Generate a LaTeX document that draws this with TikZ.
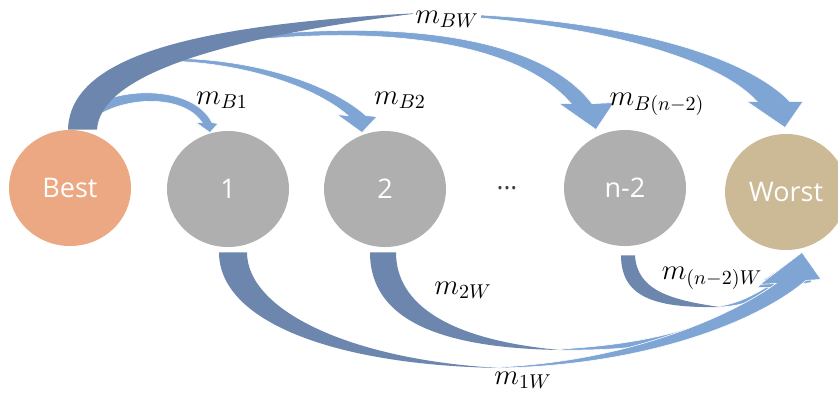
\documentclass[tikz,border=0pt]{standalone}
\usepackage{fontspec}
\newfontfamily\nodefont{Open Sans}
\usepackage{tikz}
\usetikzlibrary{shapes.geometric,calc}
\definecolor{bestfill}{RGB}{235,168,131}
\definecolor{midfill}{RGB}{175,175,176}
\definecolor{worstfill}{RGB}{204,185,149}
\definecolor{arrowlight}{RGB}{127,165,213}
\definecolor{arrowdark}{RGB}{108,134,174}
\tikzset{
  state/.style={ellipse, minimum width=61pt, minimum height=58pt, inner sep=0pt,
    text=white, font=\nodefont\fontsize{13.5}{16}\selectfont},
  back/.style={fill=arrowdark},
  front/.style={fill=arrowlight, draw=white, line width=0.3pt},
  lbl/.style={font=\fontsize{14}{16}\selectfont, inner sep=1pt}
}
\begin{document}
\begin{tikzpicture}[x=0.5pt,y=-0.5pt]
\useasboundingbox (0,0) rectangle (838,398);
\node[state, fill=bestfill] (best) at (70,188) {Best};
\node[state, fill=midfill] (n1) at (228,189) {1};
\node[state, fill=midfill] (n2) at (385,189) {2};
\node[text=black!75, font=\nodefont\fontsize{13}{16}\selectfont] (dots) at (507,188) {...};
\node[state, fill=midfill] (nm2) at (625,188) {n-2};
\node[state, fill=worstfill] (worst) at (786,192) {Worst};

\coordinate (bA) at ($(best.north)+(-2,0)$);
\coordinate (bB) at ($(best.north)+(27,0)$);
\coordinate (b1T) at ($(n1.north)+(-18,2)$);
\coordinate (b2T) at ($(n2.north)+(-23,2)$);
\coordinate (bnT) at ($(nm2.north)+(-29,0)$);
\coordinate (bwT) at ($(worst.north)+(-1,-6)$);
\coordinate (o1) at ($(n1.south)+(-9,5)$);
\coordinate (i1) at ($(n1.south)+(19,5)$);
\coordinate (o2) at ($(n2.south)+(-15,5)$);
\coordinate (i2) at ($(n2.south)+(11,5)$);
\coordinate (o3) at ($(nm2.south)+(-4,9)$);
\coordinate (i3) at ($(nm2.south)+(10,9)$);
\coordinate (w1T) at ($(worst.south)+(16,2)$);
\coordinate (w2T) at ($(worst.south)+(12,5)$);
\coordinate (w3T) at ($(worst.south)+(14,4)$);

\fill[front] (180,46) .. controls (340,18) and (530,22) .. ($(bnT)+(-4,-26)$) -- ++(22,-1) -- (bnT)
  -- ++(-37,-26) -- ++(12,0) .. controls (510,32) and (340,22) .. (180,50) -- cycle;
\fill[front] (140,60) .. controls (220,52) and (320,75) .. ($(b2T)+(4,-17)$) -- ++(11,1) -- (b2T)
  -- ++(-25,-18) -- ++(11,1) .. controls (310,82) and (220,56) .. (140,62) -- cycle;
\fill[front] (96,104) .. controls (130,86) and (195,88) .. ($(b1T)+(2,-10)$) -- ++(6,1) -- (b1T)
  -- ++(-14,-10) -- ++(6,0) .. controls (185,96) and (130,95) .. (97,116) -- cycle;
\fill[back] (bA) .. controls (70,60) and (180,25) .. (420,13) .. controls (200,40) and (100,80) .. (bB) -- cycle;
\fill[front] (420,13) .. controls (600,15) and (740,50) .. ($(bwT)+(5,-26)$) -- ++(13,0) -- (bwT)
  -- ++(-38,-26) -- ++(10,0) .. controls (720,60) and (600,22) .. (420,14) -- cycle;

\fill[back] (o3) .. controls (621,300) and (660,308) .. (720,307) .. controls (670,300) and (637,290) .. (i3) -- cycle;
\fill[front] (720,307) .. controls (745,306) and (765,297) .. (785,282) -- ++(27,-6) -- (w3T)
  -- ++(-37,26) -- ++(12,1) .. controls (758,293) and (740,303) .. (720,306) -- cycle;
\fill[back] (o2) .. controls (370,320) and (440,348) .. (560,350) .. controls (450,340) and (396,305) .. (i2) -- cycle;
\fill[front] (560,350) .. controls (680,352) and (750,325) .. ($(w2T)+(-8,30)$) -- ++(22,-3) -- (w2T)
  -- ++(-41,32) -- ++(13,0) .. controls (730,318) and (670,343) .. (560,349) -- cycle;
\fill[back] (o1) .. controls (219,320) and (330,365) .. (500,368) .. controls (350,360) and (247,310) .. (i1) -- cycle;
\fill[front] (500,368) .. controls (650,365) and (760,320) .. ($(w1T)+(4,28)$) -- ++(15,-1) -- (w1T)
  -- ++(-42,32) -- ++(16,-1) .. controls (740,310) and (640,360) .. (500,367) -- cycle;

\node[lbl, fill=white] (lBW) at (447,19) {$m_{BW}$};
\node[lbl] (lB1) at (222,100) {$m_{B1}$};
\node[lbl] (lB2) at (400,100) {$m_{B2}$};
\node[lbl] (lBn) at (657,104) {$m_{B(n-2)}$};
\node[lbl] (l2W) at (463,290) {$m_{2W}$};
\node[lbl] (l1W) at (523,380) {$m_{1W}$};
\node[lbl] (lnW) at (712,278) {$m_{(n-2)W}$};
\end{tikzpicture}
\end{document}
